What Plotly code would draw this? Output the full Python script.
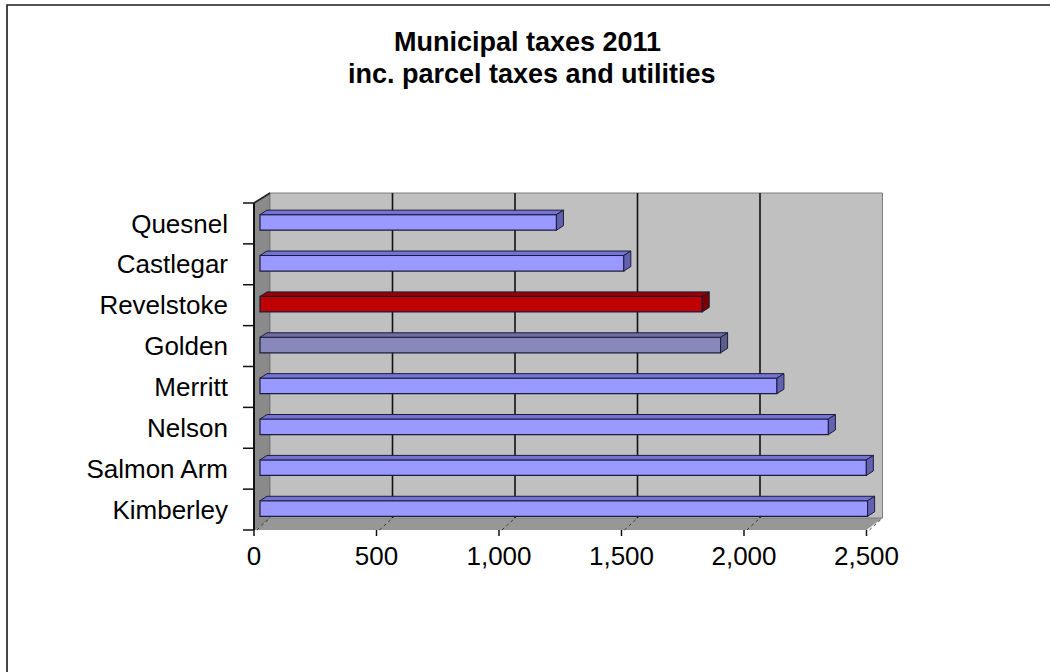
import plotly.graph_objects as go

# ---- data -------------------------------------------------------------
towns = ["Kimberley", "Salmon Arm", "Nelson", "Merritt",
         "Golden", "Revelstoke", "Castlegar", "Quesnel"]
taxes = [2480, 2475, 2320, 2110, 1880, 1805, 1485, 1210]

x_tick_values = [0, 500, 1000, 1500, 2000, 2500]
x_tick_labels = ["0", "500", "1,000", "1,500", "2,000", "2,500"]

title_lines = ["Municipal taxes 2011", "inc. parcel taxes and utilities"]

# ---- styling ----------------------------------------------------------
PALETTE = {
    "default": ("#9999FF", "#7373D6", "#6262B0"),   # front, top, side
    "Revelstoke": ("#C00000", "#960000", "#7A0000"),
    "Golden": ("#8888BB", "#6E6EA0", "#5E5E8C"),
}
EDGE = "#1C1C3A"

W, H = 1050, 672
X0_PX = 260.0          # pixel of value 0 on the bar plane
PX_PER_UNIT = 0.245    # horizontal pixels per tax unit
FLOOR_PX = 530.0       # front floor edge
BAND_PX = 40.875       # height of one category band


def ux(px):
    return (px - X0_PX) / PX_PER_UNIT


def uy(py):
    return (FLOOR_PX - py) / BAND_PX - 0.5


n = len(towns)
ypos = list(range(n))

# 3-D box geometry (in axis units)
FX = ux(254)            # front plane offset
BX = ux(270)            # back plane offset
Y_FLOOR_F = -0.5
Y_FLOOR_B = uy(518)
Y_TOP_F = n - 0.5
Y_TOP_B = uy(193)
X_MAX = x_tick_values[-1]

BAR_W = 0.38
BAR_SHIFT = 0.025
DDX = ux(267) - ux(260)   # bar depth, horizontal
DDY = 4.5 / BAND_PX       # bar depth, vertical

shapes = []

# side wall
shapes.append(dict(type="path", layer="below",
                   path=f"M {FX},{Y_FLOOR_F} L {FX},{Y_TOP_F} L {BX},{Y_TOP_B} L {BX},{Y_FLOOR_B} Z",
                   fillcolor="#8A8A8A", line=dict(color="#5A5A5A", width=1)))
# floor
shapes.append(dict(type="path", layer="below",
                   path=(f"M {FX},{Y_FLOOR_F} L {FX + X_MAX},{Y_FLOOR_F} "
                         f"L {BX + X_MAX},{Y_FLOOR_B} L {BX},{Y_FLOOR_B} Z"),
                   fillcolor="#979797", line=dict(color="#979797", width=0)))
# back wall
shapes.append(dict(type="rect", layer="below",
                   x0=BX, x1=BX + X_MAX, y0=Y_FLOOR_B, y1=Y_TOP_B,
                   fillcolor="#C0C0C0", line=dict(color="#7E7E7E", width=1)))
# back wall gridlines
for v in x_tick_values[1:-1]:
    shapes.append(dict(type="line", layer="below",
                       x0=BX + v, x1=BX + v, y0=Y_FLOOR_B, y1=Y_TOP_B,
                       line=dict(color="#111111", width=1.6)))
# floor gridlines and front ticks
for v in x_tick_values:
    shapes.append(dict(type="line", layer="below",
                       x0=FX + v + 12, x1=BX + v, y0=Y_FLOOR_F, y1=Y_FLOOR_B,
                       line=dict(color="#3A3A3A", width=1, dash="dot")))
    shapes.append(dict(type="line", layer="above",
                       x0=FX + v, x1=FX + v, y0=Y_FLOOR_F, y1=uy(536),
                       line=dict(color="#111111", width=1.5)))
# vertical category axis line and top-left edge
shapes.append(dict(type="line", layer="above",
                   x0=FX, x1=FX, y0=Y_FLOOR_F, y1=Y_TOP_F,
                   line=dict(color="#111111", width=2)))
shapes.append(dict(type="line", layer="above",
                   x0=FX, x1=BX, y0=Y_TOP_F, y1=Y_TOP_B,
                   line=dict(color="#222222", width=1.5)))
# category tick marks
for k in range(n + 1):
    shapes.append(dict(type="line", layer="above",
                       x0=ux(243), x1=FX, y0=k - 0.5, y1=k - 0.5,
                       line=dict(color="#111111", width=1.5)))

# bar top and side faces
colors_front = []
for town, v, y in zip(towns, taxes, ypos):
    front, top, side = PALETTE.get(town, PALETTE["default"])
    colors_front.append(front)
    yb = y + BAR_SHIFT - BAR_W / 2
    yt = y + BAR_SHIFT + BAR_W / 2
    shapes.append(dict(type="path", layer="above",
                       path=f"M 0,{yt} L {v},{yt} L {v + DDX},{yt + DDY} L {DDX},{yt + DDY} Z",
                       fillcolor=top, line=dict(color=EDGE, width=1)))
    shapes.append(dict(type="path", layer="above",
                       path=f"M {v},{yb} L {v},{yt} L {v + DDX},{yt + DDY} L {v + DDX},{yb + DDY} Z",
                       fillcolor=side, line=dict(color=EDGE, width=1)))

# outer chart border (left and top edges visible)
shapes.append(dict(type="rect", xref="paper", yref="paper",
                   x0=7 / W, x1=1.05, y0=-0.05, y1=1 - 5 / H,
                   line=dict(color="#1A1A1A", width=1.6), fillcolor="rgba(0,0,0,0)"))

fig = go.Figure(go.Bar(
    x=taxes, y=ypos, orientation="h",
    width=BAR_W, offset=BAR_SHIFT - BAR_W / 2,
    marker=dict(color=colors_front, line=dict(color=EDGE, width=1.2)),
    hoverinfo="skip",
))

DOM_L, DOM_R = 232, 920
DOM_T, DOM_B = 180, 538

fig.update_layout(
    width=W, height=H, autosize=False,
    margin=dict(l=0, r=0, t=0, b=0),
    paper_bgcolor="white", plot_bgcolor="rgba(0,0,0,0)",
    showlegend=False,
    font=dict(family="Liberation Sans, Arial, sans-serif", color="black"),
    shapes=shapes,
    xaxis=dict(domain=[DOM_L / W, DOM_R / W], range=[ux(DOM_L), ux(DOM_R)],
               showgrid=False, zeroline=False, showline=False, ticks="",
               tickvals=[FX + v for v in x_tick_values], ticktext=x_tick_labels,
               tickfont=dict(size=26)),
    yaxis=dict(domain=[1 - DOM_B / H, 1 - DOM_T / H], range=[uy(DOM_B), uy(DOM_T)],
               showgrid=False, zeroline=False, showline=False, ticks="",
               ticklabelstandoff=3,
               tickvals=ypos, ticktext=towns, tickfont=dict(size=26)),
    annotations=[
        dict(text=f"<b>{title_lines[0]}</b>", xref="paper", yref="paper",
             x=527 / W, y=1 - 26 / H, xanchor="center", yanchor="top",
             borderpad=0, showarrow=False, font=dict(size=27)),
        dict(text=f"<b>{title_lines[1]}</b>", xref="paper", yref="paper",
             x=532 / W, y=1 - 58 / H, xanchor="center", yanchor="top",
             borderpad=0, showarrow=False, font=dict(size=27)),
    ],
)

fig.write_html("out.html")
